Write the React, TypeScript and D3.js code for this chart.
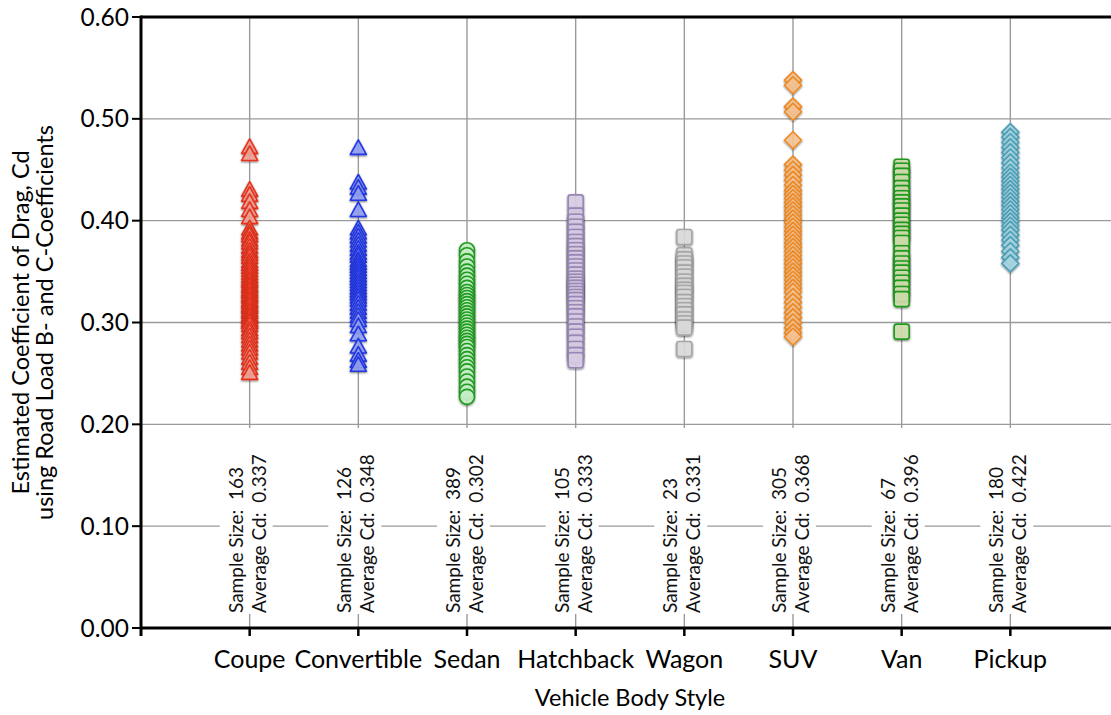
import React from 'react';
import * as d3 from 'd3';

const categories = ['Coupe', 'Convertible', 'Sedan', 'Hatchback', 'Wagon', 'SUV', 'Van', 'Pickup'];
const sampleSizes = ['163', '126', '389', '105', '23', '305', '67', '180'];
const averageCd = ['0.337', '0.348', '0.302', '0.333', '0.331', '0.368', '0.396', '0.422'];
const yTicks = [0, 0.1, 0.2, 0.3, 0.4, 0.5, 0.6];

const coupe = [0.472, 0.465, 0.430, 0.425, 0.418, 0.410, 0.403, 0.392, 0.388, 0.385, 0.381, 0.378, 0.374, 0.370, 0.367, 0.364, 0.360, 0.357, 0.354, 0.351, 0.348, 0.345, 0.342, 0.340, 0.337, 0.335, 0.332, 0.330, 0.327, 0.325, 0.322, 0.320, 0.317, 0.315, 0.312, 0.310, 0.307, 0.305, 0.302, 0.300, 0.297, 0.293, 0.290, 0.286, 0.282, 0.278, 0.274, 0.270, 0.265, 0.260, 0.255, 0.250];
const convertible = [0.471, 0.437, 0.432, 0.426, 0.410, 0.392, 0.388, 0.384, 0.380, 0.376, 0.372, 0.368, 0.365, 0.361, 0.358, 0.355, 0.352, 0.349, 0.346, 0.343, 0.340, 0.337, 0.334, 0.331, 0.328, 0.325, 0.322, 0.318, 0.314, 0.310, 0.306, 0.302, 0.296, 0.288, 0.276, 0.268, 0.262, 0.258];
const sedan = [0.371, 0.366, 0.360, 0.355, 0.350, 0.346, 0.342, 0.338, 0.334, 0.330, 0.327, 0.324, 0.321, 0.318, 0.315, 0.312, 0.309, 0.306, 0.303, 0.300, 0.297, 0.294, 0.291, 0.288, 0.285, 0.282, 0.279, 0.276, 0.272, 0.268, 0.264, 0.260, 0.256, 0.252, 0.247, 0.242, 0.237, 0.232, 0.227];
const hatchback = [0.418, 0.405, 0.399, 0.394, 0.389, 0.384, 0.379, 0.375, 0.371, 0.367, 0.363, 0.359, 0.355, 0.351, 0.347, 0.343, 0.340, 0.337, 0.334, 0.331, 0.328, 0.325, 0.322, 0.318, 0.314, 0.310, 0.306, 0.301, 0.296, 0.291, 0.286, 0.280, 0.274, 0.268, 0.263];
const wagon = [0.384, 0.366, 0.362, 0.358, 0.354, 0.349, 0.345, 0.340, 0.336, 0.332, 0.329, 0.325, 0.320, 0.316, 0.312, 0.308, 0.303, 0.299, 0.295, 0.274];
const suv = [0.538, 0.533, 0.512, 0.507, 0.479, 0.455, 0.450, 0.445, 0.440, 0.435, 0.430, 0.426, 0.422, 0.418, 0.414, 0.410, 0.406, 0.402, 0.398, 0.394, 0.390, 0.386, 0.382, 0.378, 0.374, 0.370, 0.366, 0.362, 0.358, 0.354, 0.350, 0.346, 0.342, 0.338, 0.334, 0.330, 0.325, 0.320, 0.315, 0.310, 0.305, 0.300, 0.295, 0.290, 0.286];
const van = [0.453, 0.449, 0.444, 0.438, 0.432, 0.427, 0.422, 0.418, 0.414, 0.410, 0.405, 0.400, 0.396, 0.391, 0.387, 0.383, 0.378, 0.368, 0.363, 0.358, 0.353, 0.349, 0.344, 0.339, 0.334, 0.328, 0.323, 0.291];
const pickup = [0.487, 0.482, 0.477, 0.472, 0.467, 0.462, 0.457, 0.452, 0.447, 0.443, 0.439, 0.435, 0.431, 0.427, 0.423, 0.419, 0.415, 0.411, 0.407, 0.403, 0.399, 0.395, 0.391, 0.386, 0.381, 0.376, 0.370, 0.364, 0.358];

const seriesValues = [coupe, convertible, sedan, hatchback, wagon, suv, van, pickup];

const seriesStyles = [
  { shape: 'triangle', stroke: '#e8321c', fill: '#f6a597' },
  { shape: 'triangle', stroke: '#2437e6', fill: '#92a2f4' },
  { shape: 'circle', stroke: '#1e9e1e', fill: '#cdf6cd' },
  { shape: 'square', stroke: '#9a86b6', fill: '#dcd2ea' },
  { shape: 'square', stroke: '#a6a6a6', fill: '#e0e0e0' },
  { shape: 'diamond', stroke: '#ee8a22', fill: '#fcc898' },
  { shape: 'square', stroke: '#1f9a1f', fill: '#d2e2ae' },
  { shape: 'diamond', stroke: '#4b9fb6', fill: '#acdbe8' },
];

const W = 1111;
const H = 715;
const left = 141;
const right = 1119;
const top = 17;
const bottom = 628;
const FONT = 'Lato, "Noto Sans", sans-serif';

function Marker({ shape, x, y, stroke, fill }) {
  const common = { stroke, fill, fillOpacity: 0.85, strokeWidth: 1.6, filter: 'url(#sh)' };
  if (shape === 'circle') return <circle cx={x} cy={y} r={7.5} {...common} />;
  if (shape === 'square') return <rect x={x - 7.5} y={y - 7.5} width={15} height={15} rx={2.5} {...common} />;
  if (shape === 'diamond') return <path d={`M${x},${y - 8.5}L${x + 8.5},${y}L${x},${y + 8.5}L${x - 8.5},${y}Z`} strokeLinejoin="round" {...common} />;
  return <path d={`M${x},${y - 8.5}L${x + 8},${y + 6}L${x - 8},${y + 6}Z`} strokeLinejoin="round" {...common} />;
}

export default function App() {
  const x = d3.scalePoint<string>().domain(categories).range([left, right]).padding(1);
  const y = d3.scaleLinear().domain([0, 0.6]).range([bottom, top]);

  return (
    <svg width={W} height={H} style={{ position: 'absolute', left: 0, top: 0, background: '#fff' }} fontFamily={FONT}>
      <defs>
        <filter id="sh" x="-60%" y="-60%" width="220%" height="220%">
          <feGaussianBlur in="SourceAlpha" stdDeviation="1.1" />
          <feOffset dx="0" dy="0.6" />
          <feComponentTransfer>
            <feFuncA type="linear" slope="0.55" />
          </feComponentTransfer>
          <feMerge>
            <feMergeNode />
            <feMergeNode in="SourceGraphic" />
          </feMerge>
        </filter>
      </defs>
      <rect x={0} y={0} width={W} height={H} fill="#fff" />
      {yTicks.slice(1, -1).map((t) => (
        <line key={'gy' + t} x1={left} x2={right} y1={y(t)} y2={y(t)} stroke="#9a9a9a" strokeWidth={1.4} />
      ))}
      {categories.map((c) => (
        <line key={'gx' + c} x1={x(c)} x2={x(c)} y1={top} y2={bottom} stroke="#9a9a9a" strokeWidth={1.4} />
      ))}
      {categories.map((c, i) => {
        const cx = x(c) as number;
        return (
          <g key={'lb' + c}>
            <rect x={cx - 30} y={428} width={53} height={186} fill="#fff" />
            <text transform={`translate(${cx - 7},613) rotate(-90)`} fontSize={19} fill="#111" xmlSpace="preserve">
              {`Sample Size:  ${sampleSizes[i]}`}
            </text>
            <text transform={`translate(${cx + 16},613) rotate(-90)`} fontSize={19} fill="#111" xmlSpace="preserve">
              {`Average Cd:  ${averageCd[i]}`}
            </text>
          </g>
        );
      })}
      <line x1={left} x2={right} y1={top} y2={top} stroke="#000" strokeWidth={3} />
      <line x1={left} x2={right} y1={bottom} y2={bottom} stroke="#000" strokeWidth={3} />
      <line x1={left} x2={left} y1={top - 1.5} y2={bottom + 8} stroke="#000" strokeWidth={3} />
      {yTicks.map((t) => (
        <g key={'yt' + t}>
          <line x1={left - 9} x2={left} y1={y(t)} y2={y(t)} stroke="#000" strokeWidth={2} />
          <text x={left - 12} y={y(t)} dy="0.35em" textAnchor="end" fontSize={24.5} fill="#000">
            {d3.format('.2f')(t)}
          </text>
        </g>
      ))}
      {categories.map((c) => (
        <g key={'xt' + c}>
          <line x1={x(c)} x2={x(c)} y1={bottom} y2={bottom + 8} stroke="#000" strokeWidth={2.5} />
          <text x={x(c)} y={668} textAnchor="middle" fontSize={25} fill="#000">
            {c}
          </text>
        </g>
      ))}
      <text x={(left + right) / 2} y={706} textAnchor="middle" fontSize={23.5} fill="#000">
        Vehicle Body Style
      </text>
      <text transform={`translate(29,${(top + bottom) / 2}) rotate(-90)`} textAnchor="middle" fontSize={23.5} fill="#000">
        Estimated Coefficient of Drag, Cd
      </text>
      <text transform={`translate(53,${(top + bottom) / 2}) rotate(-90)`} textAnchor="middle" fontSize={23.5} fill="#000">
        using Road Load B- and C-Coefficients
      </text>
      {categories.map((c, i) => (
        <g key={'s' + c}>
          {seriesValues[i].map((v, j) => (
            <Marker key={j} shape={seriesStyles[i].shape} x={x(c) as number} y={y(v)} stroke={seriesStyles[i].stroke} fill={seriesStyles[i].fill} />
          ))}
        </g>
      ))}
    </svg>
  );
}
